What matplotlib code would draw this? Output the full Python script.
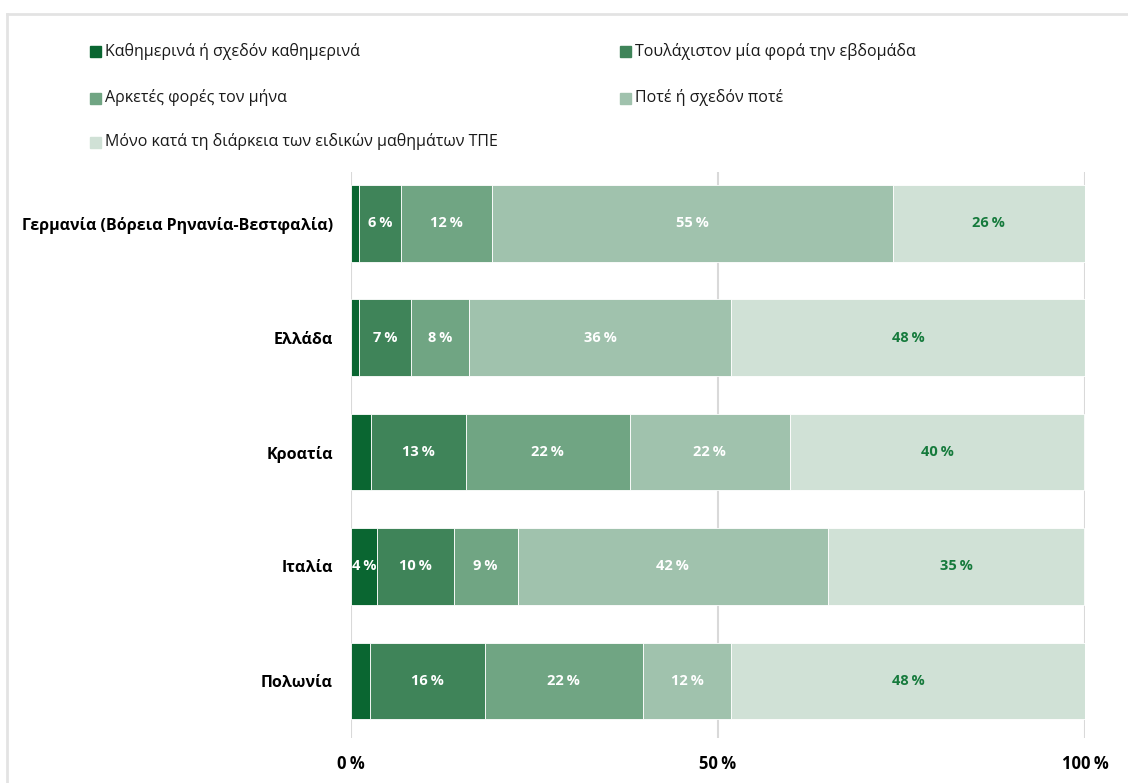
import matplotlib
matplotlib.use("Agg")
import matplotlib.pyplot as plt
from matplotlib.lines import Line2D
from matplotlib.patches import Rectangle

plt.rcParams["font.family"] = ["Open Sans", "DejaVu Sans"]

countries = ["Γερμανία (Βόρεια Ρηνανία-Βεστφαλία)", "Ελλάδα", "Κροατία", "Ιταλία", "Πολωνία"]
series_names = [
    "Καθημερινά ή σχεδόν καθημερινά",
    "Τουλάχιστον μία φορά την εβδομάδα",
    "Αρκετές φορές τον μήνα",
    "Ποτέ ή σχεδόν ποτέ",
    "Μόνο κατά τη διάρκεια των ειδικών μαθημάτων ΤΠΕ",
]
daily = [1.1, 1.1, 2.7, 3.6, 2.6]
weekly = [5.7, 7.1, 12.9, 10.4, 15.6]
monthly = [12.4, 7.9, 22.4, 8.7, 21.6]
never = [54.6, 35.7, 21.8, 42.3, 12.0]
ict_only = [26.2, 48.2, 40.1, 34.9, 48.2]
ticks = [0, 50, 100]

colors = ["#0a6631", "#3f8459", "#70a583", "#a0c2ad", "#d0e1d6"]
label_colors = ["white", "white", "white", "white", "#157a3c"]

fig = plt.figure(figsize=(11.28, 7.83), dpi=100)
W, H = 1128, 783
ax = fig.add_axes([351 / W, 1 - 738 / H, (1085 - 351) / W, (738 - 172) / H])

series = [daily, weekly, monthly, never, ict_only]
ypos = range(len(countries))
left = [0.0] * len(countries)
for vals, col, lcol in zip(series, colors, label_colors):
    bars = ax.barh(ypos, vals, left=left, height=0.67, color=col,
                   edgecolor="white", linewidth=0.6, zorder=3)
    for bar, v in zip(bars, vals):
        if v >= 3.5:
            ax.text(bar.get_x() + bar.get_width() / 2, bar.get_y() + bar.get_height() / 2,
                    f"{round(v)}\u2009%", ha="center", va="center", fontsize=10.5,
                    fontweight="bold", color=lcol, zorder=4)
    left = [l + v for l, v in zip(left, vals)]

ax.set_xlim(0, 100)
ax.set_ylim(4.5, -0.45)
ax.set_xticks(ticks)
ax.set_xticklabels([f"{t}\u2009%" for t in ticks], fontsize=12, fontweight="bold")
ax.set_yticks(list(ypos))
ax.set_yticklabels(countries, fontsize=11.5, fontweight="bold")
ax.tick_params(length=0)
ax.tick_params(axis="x", pad=12)
ax.tick_params(axis="y", pad=13)
ax.grid(True, axis="x", color="#d9d9d9", linewidth=1.5, zorder=0)
for s in ax.spines.values():
    s.set_visible(False)

# legend, laid out in two columns
leg_pos = [(90, 51), (620, 51), (90, 98), (620, 98), (90, 142)]
for (x, y), name, col in zip(leg_pos, series_names, colors):
    fig.patches.append(Rectangle((x / W, 1 - (y + 5.5) / H), 11 / W, 11 / H,
                                 transform=fig.transFigure, color=col))
    fig.text((x + 15) / W, 1 - y / H, name, fontsize=11.5, va="center", ha="left",
             color="#1a1a1a")

# light frame
fig.add_artist(Line2D([7 / W, 7 / W], [0, 1 - 14 / H], color="#e3e3e3", lw=2,
                      transform=fig.transFigure))
fig.add_artist(Line2D([7 / W, 1], [1 - 14 / H, 1 - 14 / H], color="#e3e3e3", lw=2,
                      transform=fig.transFigure))

fig.savefig("out.png", dpi=100)
